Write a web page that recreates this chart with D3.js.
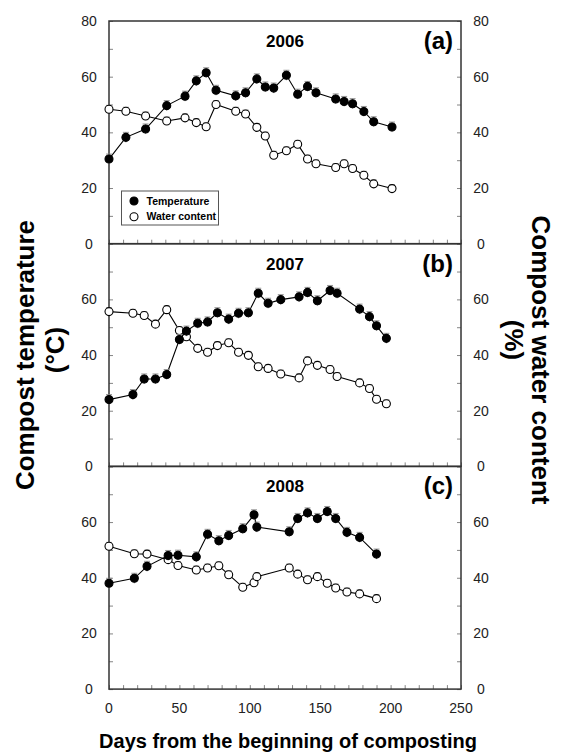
<!DOCTYPE html>
<html>
<head>
<meta charset="utf-8">
<script src="https://cdn.jsdelivr.net/npm/d3@7"></script>
<style>
body { margin: 0; background: #fff; }
svg { font-family: "Liberation Sans", Arial, sans-serif; }
</style>
</head>
<body>
<svg id="chart"></svg>
<script>
// ---- data ----
const days2006  = [0, 12, 26, 41, 54, 62, 69, 76, 90, 97, 105, 111, 117, 126, 134, 141, 147, 161, 167, 173, 181, 188, 201];
const temp2006  = [30.4, 38.2, 41.2, 49.6, 53, 58.5, 61.4, 55.1, 53.1, 54.2, 59.2, 56.3, 55.9, 60.5, 53.7, 56.5, 54.2, 52, 51.1, 50.3, 47.5, 43.8, 41.9];
const water2006 = [48.3, 47.6, 45.9, 44.1, 45.2, 43.5, 42, 50, 47.6, 46.6, 41.8, 38.7, 31.8, 33.4, 35.7, 30.4, 28.7, 27.4, 28.7, 27, 24.6, 21.5, 19.8];

const days2007  = [0, 17, 25, 33, 41, 50, 55, 63, 70, 77, 85, 92, 99, 106, 113, 122, 135, 141, 148, 157, 162, 178, 185, 190, 197];
const temp2007  = [24, 25.8, 31.4, 31.4, 33, 45.6, 48.6, 51.4, 51.9, 55.2, 52.9, 55, 55.2, 62.2, 58.6, 59.9, 60.9, 62.5, 59.5, 63.2, 62.2, 56.5, 53.8, 50.5, 46];
const water2007 = [55.6, 55, 54.2, 51.1, 56.3, 48.8, 46.6, 42.4, 41, 43.4, 44.4, 41, 39.9, 35.8, 35.2, 33.2, 31.8, 37.9, 36.3, 34.8, 32.3, 30, 28, 24.1, 22.5];

const days2008  = [0, 18, 27, 42, 49, 62, 70, 78, 85, 95, 103, 105, 128, 134, 141, 148, 155, 161, 169, 178, 190];
const temp2008  = [38, 39.8, 44.1, 48, 48.1, 47.5, 55.6, 53.3, 55.2, 57.6, 62.6, 58.2, 56.5, 61.3, 63.3, 61.3, 63.8, 61.3, 56.3, 54.5, 48.5];
const water2008 = [51.3, 48.6, 48.5, 46.5, 44.4, 42.8, 43.5, 44.3, 41.1, 36.6, 38.2, 40.4, 43.5, 41.3, 39.3, 40.4, 38, 36.3, 34.9, 34.2, 32.5];

const years = ["2006", "2007", "2008"];
const tags = ["(a)", "(b)", "(c)"];
const yLabelTicks = [[0, 20, 40, 60, 80], [0, 20, 40, 60], [0, 20, 40, 60]];
const xLabelTicks = [0, 50, 100, 150, 200, 250];
const tempErr = 1.8;
const waterErr = 1.4;

class CompostPanel {
    constructor(svg, left, top, width, height) {
        this.svg = svg;
        this.left = left;
        this.top = top;
        this.width = width;
        this.height = height;
    }

    initialize() {
        this.container = this.svg.append("g")
            .attr("transform", `translate(${this.left}, ${this.top})`);
        this.xScale = d3.scaleLinear().domain([0, 250]).range([0, this.width]);
        this.yScale = d3.scaleLinear().domain([0, 80]).range([this.height, 0]);
    }

    update(days, temp, water, year, tag, yTicks, showX) {
        const g = this.container;
        const x = this.xScale, y = this.yScale;

        // inward minor ticks
        const xAxis = g.append("g")
            .attr("transform", `translate(0, ${this.height})`)
            .call(d3.axisBottom(x).tickValues(d3.range(0, 251, 10)).tickSize(-4).tickFormat(""));
        const yAxisL = g.append("g")
            .call(d3.axisLeft(y).tickValues(d3.range(0, 81, 10)).tickSize(-4).tickFormat(""));
        const yAxisR = g.append("g")
            .attr("transform", `translate(${this.width}, 0)`)
            .call(d3.axisRight(y).tickValues(d3.range(0, 81, 10)).tickSize(-4).tickFormat(""));
        [xAxis, yAxisL, yAxisR].forEach(a => {
            a.select(".domain").remove();
            a.selectAll("line").attr("stroke", "#666").attr("stroke-width", 0.8);
        });

        // tick labels
        const lbl = g.append("g").attr("font-size", 14).attr("fill", "#222").attr("text-anchor", "middle");
        lbl.selectAll("text.l").data(yTicks).join("text").attr("class", "l")
            .attr("x", -20).attr("y", d => y(d)).attr("dy", "0.35em").text(d => d);
        lbl.selectAll("text.r").data(yTicks).join("text").attr("class", "r")
            .attr("x", this.width + 20).attr("y", d => y(d)).attr("dy", "0.35em").text(d => d);
        if (showX) {
            lbl.selectAll("text.x").data(xLabelTicks).join("text").attr("class", "x")
                .attr("x", d => x(d)).attr("y", this.height + 24).text(d => d);
        }

        // frame
        g.append("rect")
            .attr("width", this.width).attr("height", this.height)
            .attr("fill", "none").attr("stroke", "#333").attr("stroke-width", 1.5);

        const series = [
            { v: water, err: waterErr, fill: "#fff" },
            { v: temp, err: tempErr, fill: "#000" }
        ];
        const line = d3.line().x(d => x(d[0])).y(d => y(d[1]));

        series.forEach(s => {
            const pts = days.map((d, i) => [d, s.v[i]]);
            g.append("path").datum(pts)
                .attr("d", line).attr("fill", "none").attr("stroke", "#000").attr("stroke-width", 1.1);

            const eb = g.append("g").attr("stroke", "#888").attr("stroke-width", 0.9);
            eb.selectAll("line.v").data(pts).join("line").attr("class", "v")
                .attr("x1", d => x(d[0])).attr("x2", d => x(d[0]))
                .attr("y1", d => y(d[1] - s.err)).attr("y2", d => y(d[1] + s.err));
            eb.selectAll("line.c").data(pts).join("line").attr("class", "c")
                .attr("x1", d => x(d[0]) - 3).attr("x2", d => x(d[0]) + 3)
                .attr("y1", d => y(d[1] + s.err)).attr("y2", d => y(d[1] + s.err));

            g.append("g").selectAll("circle").data(pts).join("circle")
                .attr("cx", d => x(d[0])).attr("cy", d => y(d[1])).attr("r", 4)
                .attr("fill", s.fill).attr("stroke", "#000").attr("stroke-width", 1.1);
        });

        g.append("text").attr("x", this.width / 2 + 0).attr("y", 26)
            .attr("text-anchor", "middle").attr("font-weight", "bold").attr("font-size", 17)
            .text(year);
        g.append("text").attr("x", this.width - 8).attr("y", 28)
            .attr("text-anchor", "end").attr("font-weight", "bold").attr("font-size", 24)
            .text(tag);
    }

    legend() {
        const g = this.container.append("g").attr("transform", "translate(12.5, 170)");
        g.append("rect").attr("width", 97).attr("height", 34)
            .attr("fill", "#fff").attr("stroke", "#555").attr("stroke-width", 1);
        const items = [{ name: "Temperature", fill: "#000" }, { name: "Water content", fill: "#fff" }];
        items.forEach((it, i) => {
            g.append("circle").attr("cx", 12.5).attr("cy", 10 + i * 15.7).attr("r", 4)
                .attr("fill", it.fill).attr("stroke", "#000").attr("stroke-width", 1.1);
            g.append("text").attr("x", 25).attr("y", 10 + i * 15.7).attr("dy", "0.35em")
                .attr("font-size", 10.5).attr("font-weight", "bold").text(it.name);
        });
    }
}

const svg = d3.select("#chart").attr("width", 562).attr("height", 756);
const left = 109, top0 = 21, plotW = 352, panelH = 222.7;
const allDays = [days2006, days2007, days2008];
const allTemp = [temp2006, temp2007, temp2008];
const allWater = [water2006, water2007, water2008];

allDays.forEach((days, i) => {
    const p = new CompostPanel(svg, left, top0 + i * panelH, plotW, panelH);
    p.initialize();
    p.update(days, allTemp[i], allWater[i], years[i], tags[i], yLabelTicks[i], i === 2);
    if (i === 0) p.legend();
});

// axis titles
svg.append("text").attr("transform", "translate(34, 355) rotate(-90)")
    .attr("text-anchor", "middle").attr("font-weight", "bold").attr("font-size", 26)
    .text("Compost temperature");
svg.append("text").attr("transform", "translate(64, 350) rotate(-90)")
    .attr("text-anchor", "middle").attr("font-weight", "bold").attr("font-size", 26)
    .text("(°C)");
svg.append("text").attr("transform", "translate(532, 360) rotate(90)")
    .attr("text-anchor", "middle").attr("font-weight", "bold").attr("font-size", 26)
    .text("Compost water content");
svg.append("text").attr("transform", "translate(505, 340) rotate(90)")
    .attr("text-anchor", "middle").attr("font-weight", "bold").attr("font-size", 26)
    .text("(%)");
svg.append("text").attr("x", 288).attr("y", 748)
    .attr("text-anchor", "middle").attr("font-weight", "bold").attr("font-size", 20)
    .text("Days from the beginning of composting");
</script>
</body>
</html>
